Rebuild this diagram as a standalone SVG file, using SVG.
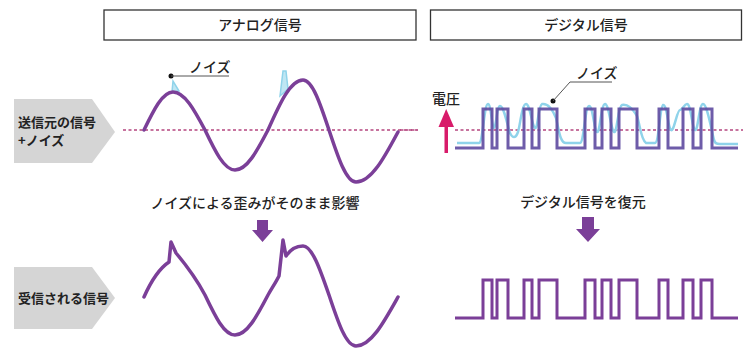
<svg xmlns="http://www.w3.org/2000/svg" width="743" height="349" viewBox="0 0 743 349">
<style>
text{font-family:"Noto Sans CJK JP","Noto Sans",sans-serif;fill:#222}
.hdr{font-size:14px;text-anchor:middle;font-weight:500}
.lbl{font-size:13px;font-weight:bold}
.cap{font-size:14px;text-anchor:middle;font-weight:500}
.small{font-size:14px;font-weight:500}
.tag{fill:#d5d5d5}
.box{fill:#fff;stroke:#333;stroke-width:1.3}
.wave{fill:none;stroke:#7b3f98;stroke-width:3.5;stroke-linejoin:round;stroke-linecap:round}
.sq{fill:none;stroke:#7b3f98;stroke-width:3;stroke-linejoin:miter}
.sqn{fill:none;stroke:#5e4aa0;stroke-width:3;stroke-linejoin:miter;opacity:0.9}
.noise{fill:none;stroke:#8fd3ea;stroke-width:2.5;stroke-linejoin:round}
.spike{fill:#bfe6f3;stroke:#8fd3ea;stroke-width:1.5}
.dash{stroke:#b5457f;stroke-width:1.5;stroke-dasharray:3 2.5}
.lead{stroke:#555;stroke-width:1;fill:none}
.arr{fill:#7b3f98}
</style>

<g id="header-analog">
<rect class="box" x="104" y="10" width="312" height="30"/>
<text class="hdr" x="260" y="30">アナログ信号</text>
</g>
<g id="header-digital">
<rect class="box" x="430.5" y="10" width="311" height="30"/>
<text class="hdr" x="586" y="30">デジタル信号</text>
</g>

<g id="label-sent">
<polygon class="tag" points="14,99 92,99 115,132 92,163 14,163"/>
<text class="lbl" x="18" y="127">送信元の信号</text>
<text class="lbl" x="18" y="145">+ノイズ</text>
</g>
<g id="label-received">
<polygon class="tag" points="14,267 92,267 115,298 92,329 14,329"/>
<text class="lbl" x="18" y="303">受信される信号</text>
</g>

<g id="analog-sent">
<line class="dash" x1="123" y1="130" x2="420" y2="130"/>
<polygon class="spike" points="172,92 173,81 179,91"/>
<polygon class="spike" points="280,96 283,71 286,71 288,89"/>
<path class="wave" d="M144,130 C153.7,110 162.5,92 173,92 C184.6,92 194.3,110 205,130 C215,151 224.1,170 235,170 C247,170 257,151 268,130 C279.7,103.75 290.3,80 303,80 C312.4,80 320.3,103.75 329,130 C338,157.3 346.2,182 356,182 C371.2,182 384,158.2 398,132"/>
<circle cx="171" cy="76" r="2.5" fill="#111"/>
<line class="lead" x1="171" y1="76" x2="229" y2="76"/>
<text class="small" x="189" y="72">ノイズ</text>
</g>

<g id="analog-caption">
<text class="cap" x="255" y="208">ノイズによる歪みがそのまま影響</text>
<polygon class="arr" points="257,220 268,220 268,230 273,230 262.5,242 252,230 257,230"/>
</g>

<g id="analog-received">
<path class="wave" d="M144,297 C152,279 160,268 169,262 L171,242 L176,253 C186,265 197,280 205,295 C215,316 224,335 235,335 C247,335 257,316 268,295 C272,288 276,282 279,276 L283,240 L286,256 C290,250 296,246 303,246 C312,246 320,269 329,295 C338,322 346,346 356,346 C371,346 384,322 398,297"/>
</g>

<g id="digital-sent">
<line class="dash" x1="400" y1="130" x2="418" y2="130"/>
<line class="dash" x1="455" y1="130" x2="743" y2="130"/>
<path class="noise" d="M457,143 L479,143 C483,143 484,104 488,104 C491,104 492,128 494,128 C496,128 497,106 500,106 C503,106 506,118 509,130 C512,140 516,138 518,132 C520,126 522,104 526,104 C530,104 532,126 535,128 C538,130 538,106 542,104 C548,103 552,108 556,118 C559,130 560,143 566,143 L580,143 C584,143 585,106 589,106 C593,106 594,130 597,132 C600,134 601,104 605,104 C609,104 611,130 614,132 C617,134 618,106 622,105 C628,104 632,108 637,116 C640,125 641,140 646,143 L655,143 C659,143 660,106 663,105 C667,104 668,128 671,130 C674,132 677,110 680,110 C683,110 684,104 687,104 C691,104 692,128 695,130 C698,132 699,104 703,104 C707,104 711,128 714,140 C715,143 716,144 720,144 L738,144"/>
<path class="sqn" d="M455,148 H483 V109 H492 V148 H497 V109 H508 V148 H524 V109 H532 V148 H539 V109 H557 V148 H585 V109 H595 V148 H602 V109 H611 V148 H619 V109 H637 V148 H659 V109 H668 V148 H683 V109 H693 V148 H701 V109 H712 V148 H738"/>
<rect x="444.5" y="124" width="3.5" height="29" fill="#d81b6a"/>
<polygon points="438.5,127 446.2,109 454,127" fill="#d81b6a"/>
<text class="small" x="446" y="104" text-anchor="middle">電圧</text>
<circle cx="553" cy="101" r="2.5" fill="#111"/>
<polyline class="lead" points="553,101 570,82 612,82"/>
<text class="small" x="576" y="78">ノイズ</text>
</g>

<g id="digital-caption">
<text class="cap" x="583" y="207">デジタル信号を復元</text>
<polygon class="arr" points="582,217 594,217 594,229 600,229 588,242 576,229 582,229"/>
</g>

<g id="digital-received">
<path class="sq" d="M455,318 H483 V280 H492 V318 H497 V280 H508 V318 H524 V280 H532 V318 H539 V280 H557 V318 H585 V280 H595 V318 H602 V280 H611 V318 H619 V280 H637 V318 H659 V280 H668 V318 H683 V280 H693 V318 H701 V280 H712 V318 H738"/>
</g>
</svg>
